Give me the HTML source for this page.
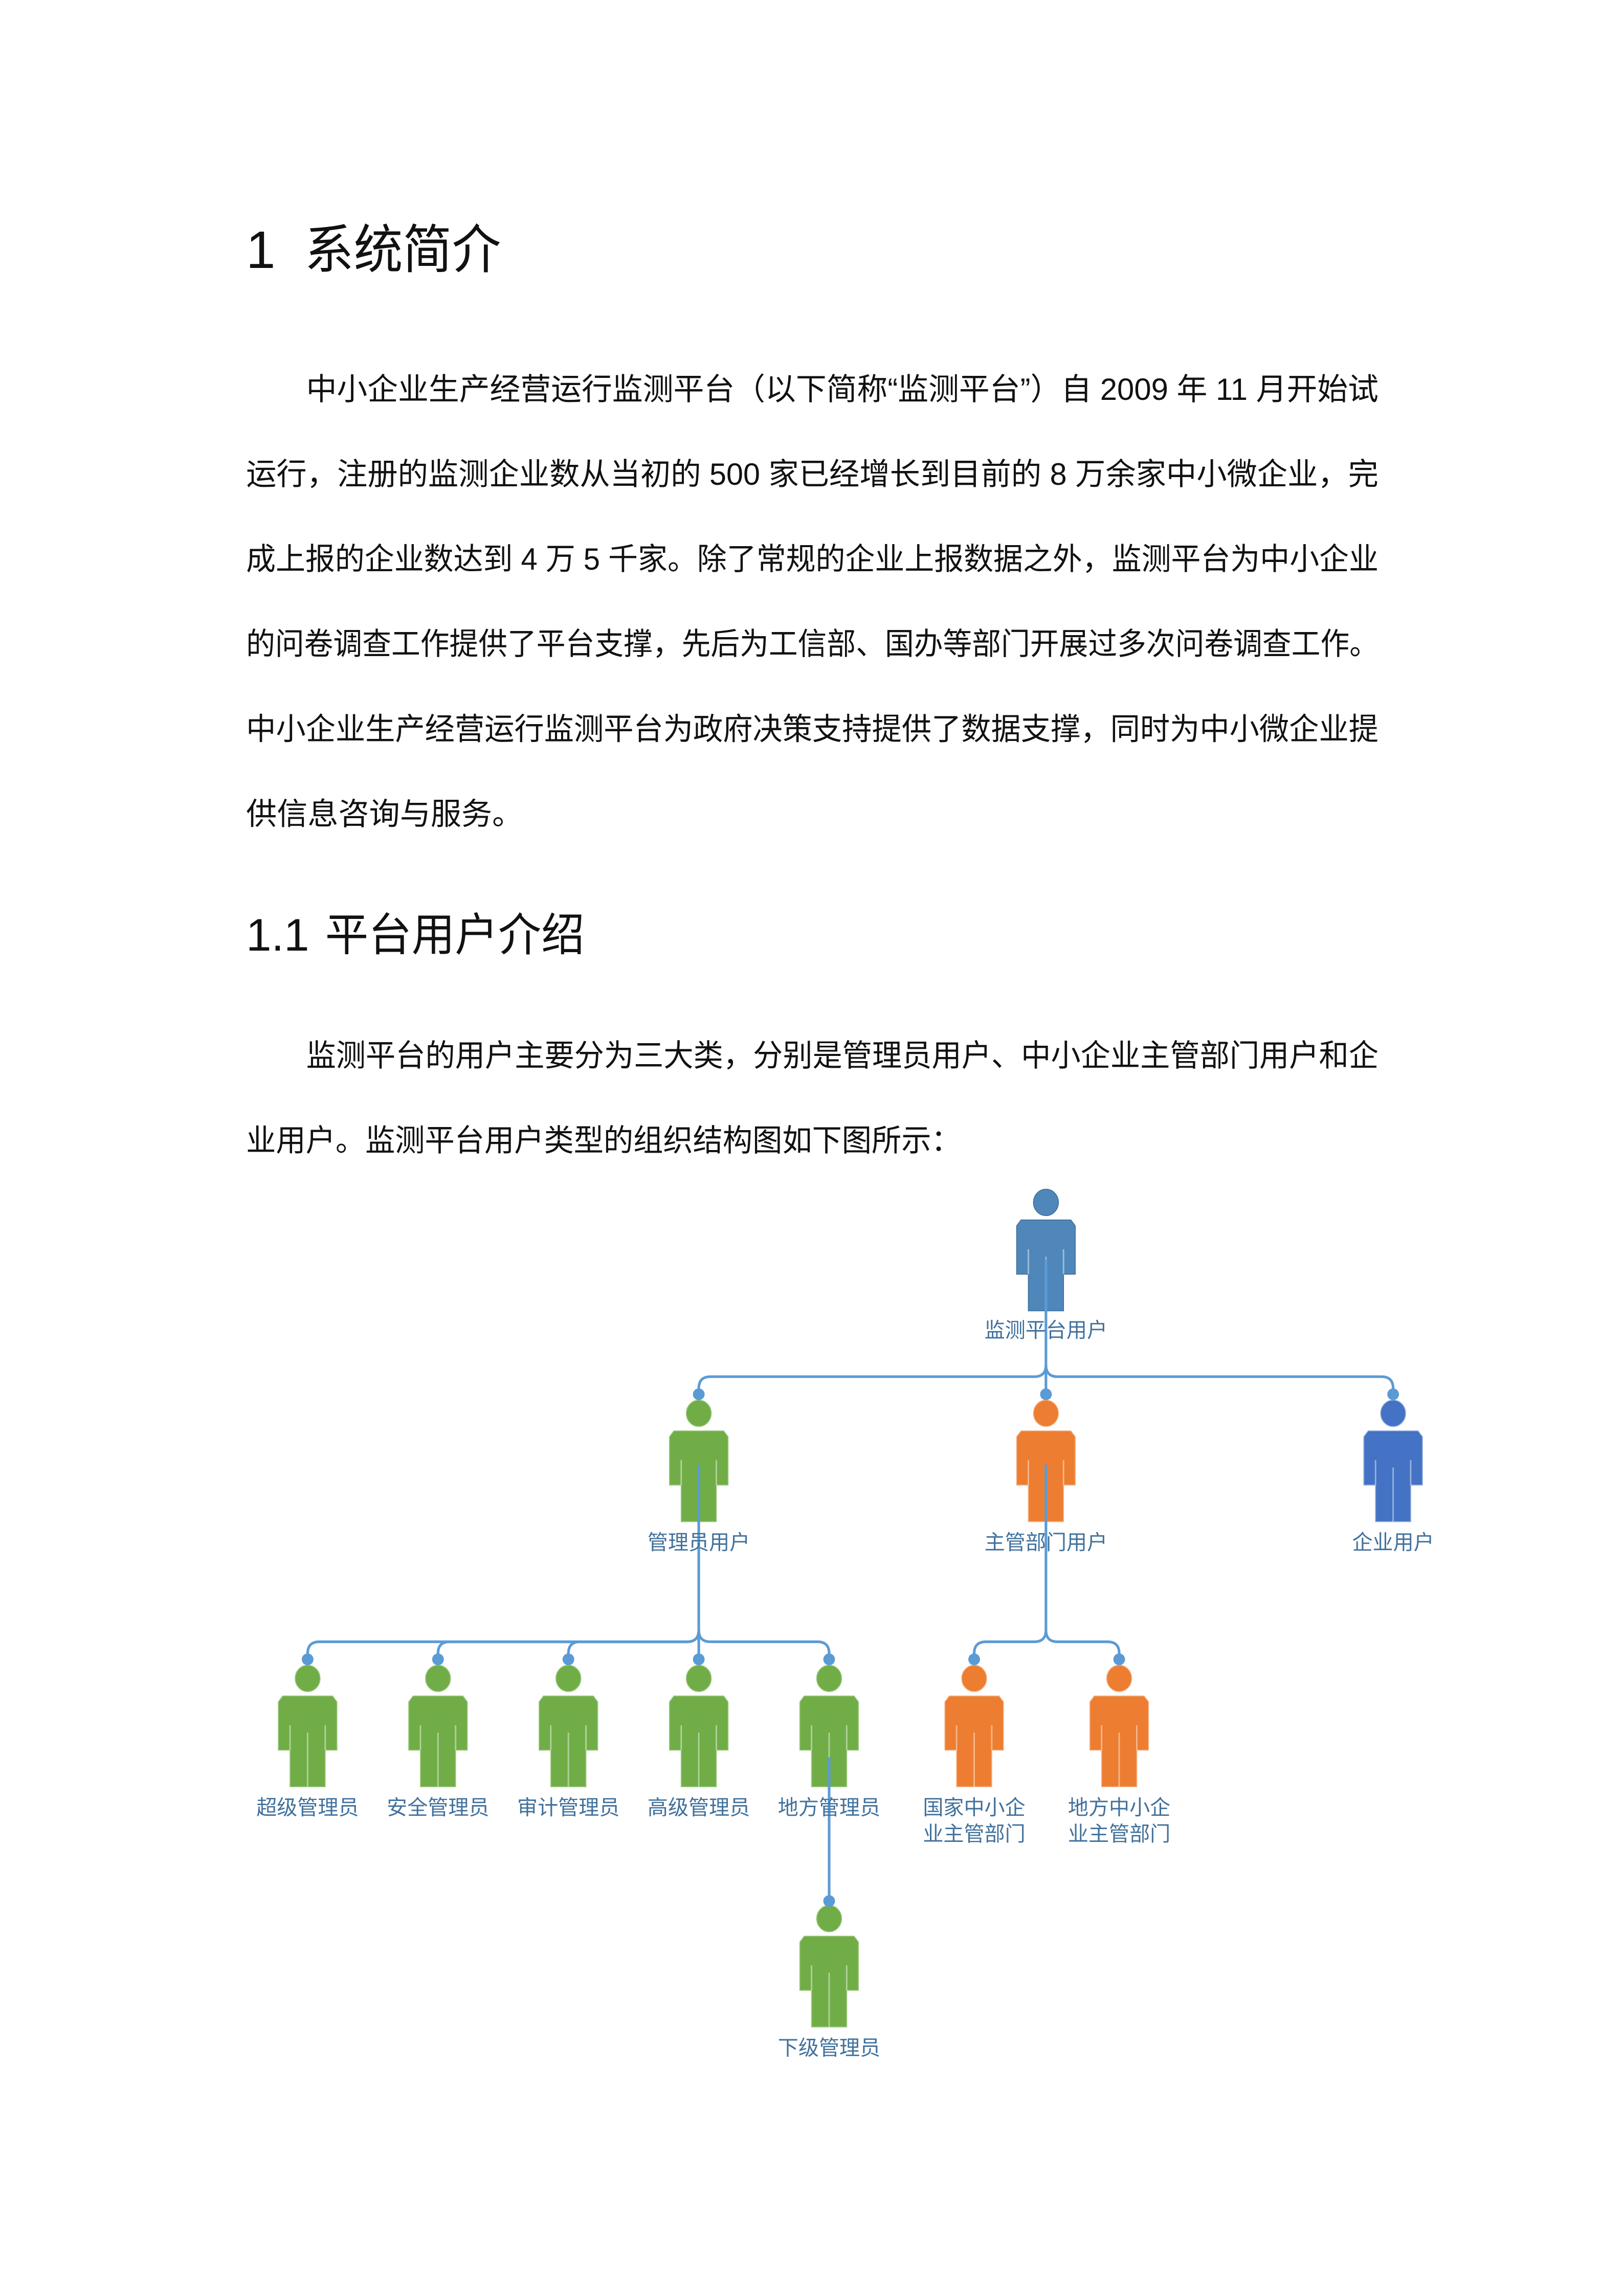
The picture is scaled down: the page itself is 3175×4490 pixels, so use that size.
<!DOCTYPE html>
<html><head><meta charset="utf-8"><style>
html,body{margin:0;padding:0;background:#fff;}
svg{display:block;}
text{font-family:"Liberation Sans","Noto Sans CJK SC",sans-serif;}
.b{font-size:21px;fill:#111;}
.l{font-size:14px;fill:#41719c;}
</style></head><body>
<svg width="3175" height="4490" viewBox="0 0 1108.6 1567.7" preserveAspectRatio="none" xmlns="http://www.w3.org/2000/svg">
<defs>
<g id="p">
<ellipse cx="0" cy="0" rx="8.5" ry="9"/>
<path d="M-17,12 H17 L20,16 V49 H12 V74 H-12 V49 H-20 V16 Z"/>
<path d="M-12,32 V49 M12,32 V49 M0,37 V74" stroke="#ffffff" stroke-opacity="0.45" stroke-width="1" fill="none"/>
</g>
</defs>
<rect width="1108.6" height="1567.7" fill="#fff"/>
<text x="168" y="183" style="font-size:36px;fill:#111">1</text>
<text x="208" y="183" style="font-size:36px;fill:#111" textLength="134" lengthAdjust="spacingAndGlyphs">系统简介</text>
<text class="b" x="209" y="273" textLength="732" lengthAdjust="spacingAndGlyphs">中小企业生产经营运行监测平台（以下简称“监测平台”）自 2009 年 11 月开始试</text>
<text class="b" x="168" y="331" textLength="773" lengthAdjust="spacingAndGlyphs">运行，注册的监测企业数从当初的 500 家已经增长到目前的 8 万余家中小微企业，完</text>
<text class="b" x="168" y="389" textLength="773" lengthAdjust="spacingAndGlyphs">成上报的企业数达到 4 万 5 千家。除了常规的企业上报数据之外，监测平台为中小企业</text>
<text class="b" x="168" y="447" textLength="773" lengthAdjust="spacingAndGlyphs">的问卷调查工作提供了平台支撑，先后为工信部、国办等部门开展过多次问卷调查工作。</text>
<text class="b" x="168" y="505" textLength="773" lengthAdjust="spacingAndGlyphs">中小企业生产经营运行监测平台为政府决策支持提供了数据支撑，同时为中小微企业提</text>
<text class="b" x="168" y="563">供信息咨询与服务。</text>
<text x="168" y="649" style="font-size:31px;fill:#111">1.1</text>
<text x="222" y="649" style="font-size:31px;fill:#111" textLength="177" lengthAdjust="spacingAndGlyphs">平台用户介绍</text>
<text class="b" x="209" y="728" textLength="732" lengthAdjust="spacingAndGlyphs">监测平台的用户主要分为三大类，分别是管理员用户、中小企业主管部门用户和企</text>
<text class="b" x="168" y="786" textLength="488" lengthAdjust="spacingAndGlyphs">业用户。监测平台用户类型的组织结构图如下图所示：</text>

<g fill="#4f87ba" stroke="#41719c" stroke-width="0.6"><use href="#p" x="714" y="821"/></g>
<g fill="#70ad47" stroke="#9cc77e" stroke-width="0.6">
<use href="#p" x="477" y="965"/>
<use href="#p" x="210" y="1146"/><use href="#p" x="299" y="1146"/><use href="#p" x="388" y="1146"/><use href="#p" x="477" y="1146"/><use href="#p" x="566" y="1146"/>
<use href="#p" x="566" y="1310"/>
</g>
<g fill="#ed7d31" stroke="#f4b183" stroke-width="0.6">
<use href="#p" x="714" y="965"/><use href="#p" x="665" y="1146"/><use href="#p" x="764" y="1146"/>
</g>
<g fill="#4472c4" stroke="#8faadc" stroke-width="0.6"><use href="#p" x="951" y="965"/></g>

<g fill="none" stroke="#5b9bd5" stroke-width="1.8">
<path d="M714,860 V932 Q714,940 706,940 H485 Q477,940 477,948 V952"/>
<path d="M714,932 Q714,940 722,940 H943 Q951,940 951,948 V952"/>
<path d="M714,932 V952"/>
<path d="M477,1000 V1113 Q477,1121 469,1121 H218 Q210,1121 210,1129 V1133"/>
<path d="M477,1113 Q477,1121 469,1121 H307 Q299,1121 299,1129 V1133"/>
<path d="M477,1113 Q477,1121 469,1121 H396 Q388,1121 388,1129 V1133"/>
<path d="M477,1113 V1133"/>
<path d="M477,1113 Q477,1121 485,1121 H558 Q566,1121 566,1129 V1133"/>
<path d="M714,1000 V1113 Q714,1121 706,1121 H673 Q665,1121 665,1129 V1133"/>
<path d="M714,1113 Q714,1121 722,1121 H756 Q764,1121 764,1129 V1133"/>
<path d="M566,1200 V1298"/>
</g>
<g fill="#5b9bd5">
<circle cx="477" cy="952" r="4"/><circle cx="714" cy="952" r="4"/><circle cx="951" cy="952" r="4"/>
<circle cx="210" cy="1133" r="4"/><circle cx="299" cy="1133" r="4"/><circle cx="388" cy="1133" r="4"/><circle cx="477" cy="1133" r="4"/><circle cx="566" cy="1133" r="4"/>
<circle cx="665" cy="1133" r="4"/><circle cx="764" cy="1133" r="4"/><circle cx="566" cy="1298" r="4"/>
</g>

<g text-anchor="middle">
<text class="l" x="714" y="913">监测平台用户</text>
<text class="l" x="477" y="1058">管理员用户</text>
<text class="l" x="714" y="1058">主管部门用户</text>
<text class="l" x="951" y="1058">企业用户</text>
<text class="l" x="210" y="1239">超级管理员</text>
<text class="l" x="299" y="1239">安全管理员</text>
<text class="l" x="388" y="1239">审计管理员</text>
<text class="l" x="477" y="1239">高级管理员</text>
<text class="l" x="566" y="1239">地方管理员</text>
<text class="l" x="665" y="1239">国家中小企</text>
<text class="l" x="665" y="1257">业主管部门</text>
<text class="l" x="764" y="1239">地方中小企</text>
<text class="l" x="764" y="1257">业主管部门</text>
<text class="l" x="566" y="1403">下级管理员</text>
</g>
</svg>
</body></html>
